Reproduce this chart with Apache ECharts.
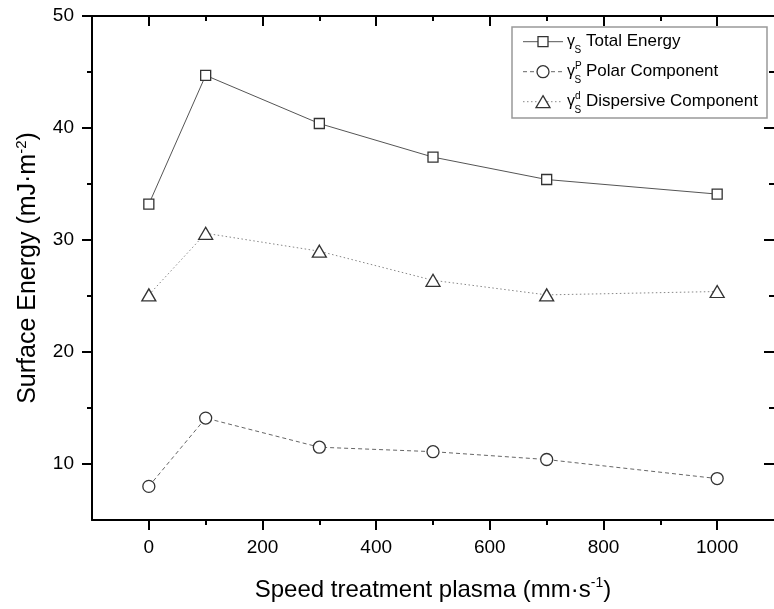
<!DOCTYPE html>
<html>
<head>
<meta charset="utf-8">
<script src="https://cdn.jsdelivr.net/npm/echarts@6/dist/echarts.min.js"></script>
<style>
  html, body { margin: 0; padding: 0; background: #fff; }
  #chart { width: 774px; height: 609px; }
</style>
</head>
<body>
<div id="chart"></div>
<script>
// Plasma treatment speed (mm/s) and measured surface energy components (mJ/m²)
const speeds = [0, 100, 300, 500, 700, 1000];
const totalEnergy = [33.2, 44.7, 40.4, 37.4, 35.4, 34.1];
const polarComponent = [8.0, 14.1, 11.5, 11.1, 10.4, 8.7];
const dispersiveComponent = [25.1, 30.6, 29.0, 26.4, 25.1, 25.4];

// Axis ticks
const xMajorTicks = [0, 200, 400, 600, 800, 1000];
const xMinorTicks = [100, 300, 500, 700, 900];
const yMajorTicks = [10, 20, 30, 40, 50];
const yMinorTicks = [15, 25, 35, 45];

const FONT = '"Liberation Sans", Arial, sans-serif';
const X_RANGE = [-100, 1100];
const Y_RANGE = [5, 50];

const seriesStyles = [
  { name: 'Total Energy', data: totalEnergy, symbol: 'rect', size: 10, line: '#555', dash: 'solid', sup: '' },
  { name: 'Polar Component', data: polarComponent, symbol: 'circle', size: 12, line: '#666', dash: [4, 3], sup: 'P' },
  { name: 'Dispersive Component', data: dispersiveComponent, symbol: 'triangle', size: [14, 12], line: '#888', dash: [1.5, 2.5], sup: 'd' }
];

// One axis layer: frame line, a set of ticks and optionally labels
function axisLayer(dim, position, range, tickValues, tickLen, inside, labelValues, showLine) {
  return {
    type: 'value',
    position: position,
    min: range[0],
    max: range[1],
    splitLine: { show: false },
    axisLine: { show: showLine, onZero: false, lineStyle: { color: '#000', width: 2 } },
    axisTick: {
      show: true, inside: inside, length: tickLen, customValues: tickValues,
      lineStyle: { color: '#000', width: 2 }
    },
    axisLabel: labelValues ? {
      show: true, customValues: labelValues,
      formatter: v => String(v),
      fontFamily: FONT, fontSize: 19, color: '#000',
      margin: dim === 'x' ? 18 : 18
    } : { show: false }
  };
}

const xAxes = [
  axisLayer('x', 'bottom', X_RANGE, xMajorTicks, 10, false, xMajorTicks, true),
  axisLayer('x', 'bottom', X_RANGE, xMinorTicks, 5, false, null, false),
  axisLayer('x', 'top', X_RANGE, xMajorTicks, 10, true, null, true),
  axisLayer('x', 'top', X_RANGE, xMinorTicks, 5, true, null, false)
];
const yAxes = [
  axisLayer('y', 'left', Y_RANGE, yMajorTicks, 10, false, yMajorTicks, true),
  axisLayer('y', 'left', Y_RANGE, yMinorTicks, 5, false, null, false),
  axisLayer('y', 'right', Y_RANGE, yMajorTicks, 10, true, null, false),
  axisLayer('y', 'right', Y_RANGE, yMinorTicks, 5, true, null, false)
];

Object.assign(xAxes[0], {
  name: 'Speed treatment plasma (mm·s{sup|-1})',
  nameLocation: 'middle',
  nameGap: 56,
  nameTextStyle: {
    fontFamily: FONT, fontSize: 24, color: '#000', lineHeight: 28,
    rich: { sup: { fontFamily: FONT, fontSize: 14, lineHeight: 12, verticalAlign: 'top', color: '#000' } }
  }
});
Object.assign(yAxes[0], {
  name: 'Surface Energy (mJ·m{sup|-2})',
  nameLocation: 'middle',
  nameGap: 50,
  nameTextStyle: {
    fontFamily: FONT, fontSize: 25, color: '#000', lineHeight: 28,
    padding: [0, 0, 0, 0],
    rich: { sup: { fontFamily: FONT, fontSize: 15, lineHeight: 12, verticalAlign: 'top', color: '#000' } }
  }
});

const series = seriesStyles.map(s => ({
  name: s.name,
  type: 'line',
  xAxisIndex: 0,
  yAxisIndex: 0,
  data: speeds.map((x, i) => [x, s.data[i]]),
  symbol: s.symbol,
  symbolSize: s.size,
  showAllSymbol: true,
  lineStyle: { color: s.line, width: 1, type: s.dash },
  itemStyle: { color: '#fff', borderColor: '#333', borderWidth: 1.3 },
  emphasis: { disabled: true },
  animation: false,
  z: 3
}));

// Legend box with γ symbols (subscript S, superscripts P / d)
const legendX = 512, legendY = 27, legendW = 255, legendH = 91;
const rowY0 = 41.7, rowStep = 30;
const legendChildren = [{
  type: 'rect',
  shape: { x: legendX, y: legendY, width: legendW, height: legendH },
  style: { fill: '#fff', stroke: '#999', lineWidth: 1.5 }
}];
seriesStyles.forEach((s, i) => {
  const cy = rowY0 + i * rowStep;
  const cx = 543;
  legendChildren.push({
    type: 'line',
    shape: { x1: 523, y1: cy, x2: 563, y2: cy },
    style: { stroke: s.line, lineWidth: 1, lineDash: s.dash === 'solid' ? null : s.dash }
  });
  let sym;
  if (s.symbol === 'rect') {
    sym = { type: 'rect', shape: { x: cx - 5, y: cy - 5, width: 10, height: 10 } };
  } else if (s.symbol === 'circle') {
    sym = { type: 'circle', shape: { cx: cx, cy: cy, r: 6 } };
  } else {
    sym = { type: 'polygon', shape: { points: [[cx, cy - 6], [cx + 7, cy + 6], [cx - 7, cy + 6]] } };
  }
  sym.style = { fill: '#fff', stroke: '#333', lineWidth: 1.3 };
  legendChildren.push(sym);
  legendChildren.push({
    type: 'text', x: 567, y: cy,
    style: { text: 'γ', fontFamily: FONT, fontSize: 16, fill: '#000', verticalAlign: 'middle', align: 'left' }
  });
  legendChildren.push({
    type: 'text', x: 574.5, y: cy + 8.5,
    style: { text: 'S', fontFamily: FONT, fontSize: 10, fill: '#000', verticalAlign: 'middle', align: 'left' }
  });
  if (s.sup) {
    legendChildren.push({
      type: 'text', x: 575, y: cy - 5.5,
      style: { text: s.sup, fontFamily: FONT, fontSize: 10, fill: '#000', verticalAlign: 'middle', align: 'left' }
    });
  }
  legendChildren.push({
    type: 'text', x: 586, y: cy,
    style: { text: s.name, fontFamily: FONT, fontSize: 17, fill: '#000', verticalAlign: 'middle', align: 'left' }
  });
});

const chart = echarts.init(document.getElementById('chart'), null, { renderer: 'canvas' });
chart.setOption({
  backgroundColor: '#fff',
  animation: false,
  grid: { left: 92, top: 16, width: 684, height: 507, containLabel: false },
  xAxis: xAxes,
  yAxis: yAxes,
  series: series,
  graphic: [{ type: 'group', z: 10, children: legendChildren }]
});
</script>
</body>
</html>
